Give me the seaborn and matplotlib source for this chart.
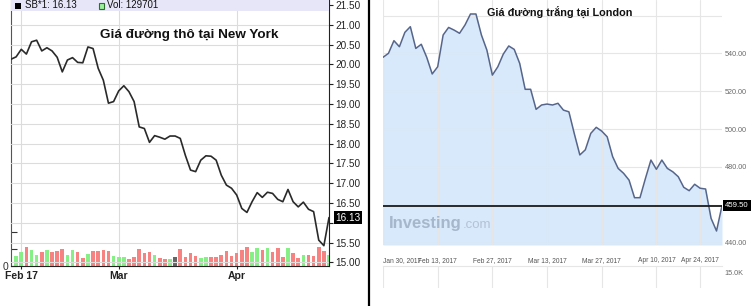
import numpy as np
import pandas as pd
import matplotlib
matplotlib.use("Agg")
import matplotlib.pyplot as plt
from matplotlib.patches import Rectangle
from matplotlib.lines import Line2D
import seaborn as sns

# ---------------- data ----------------
# New York raw sugar (SB*1), one close per trading day
ny_price = [20.13, 20.19, 20.38, 20.26, 20.57, 20.61, 20.34, 20.42, 20.34, 20.18,
            19.81, 20.11, 20.17, 20.05, 20.04, 20.44, 20.40, 19.90, 19.60, 19.02,
            19.06, 19.33, 19.46, 19.31, 19.06, 18.42, 18.38, 18.03, 18.20, 18.16,
            18.11, 18.19, 18.19, 18.13, 17.70, 17.33, 17.29, 17.58, 17.69, 17.68,
            17.58, 17.20, 16.95, 16.87, 16.70, 16.36, 16.26, 16.53, 16.76, 16.64,
            16.77, 16.74, 16.59, 16.53, 16.84, 16.53, 16.40, 16.52, 16.34, 16.28,
            15.56, 15.42, 16.13]
# volume (thousand lots) for trading days 1..62
ny_volume_k = [118, 165, 223, 188, 129, 165, 188, 165, 176, 200,
               129, 188, 165, 94, 141, 176, 176, 188, 176, 118,
               106, 106, 82, 106, 200, 153, 165, 129, 94, 82,
               82, 106, 200, 106, 153, 118, 94, 106, 106, 106,
               129, 176, 118, 153, 188, 223, 165, 212, 188, 212,
               165, 212, 106, 212, 153, 94, 129, 129, 118, 223,
               176, 130]
ny_tick_pos = [2, 21, 44]
ny_tick_labels = ["Feb 17", "Mar", "Apr"]
ny_yticks = [15.0, 15.5, 16.0, 16.5, 17.0, 17.5, 18.0, 18.5, 19.0, 19.5, 20.0, 20.5, 21.0, 21.5]
ny_last = "16.13"
ny_vol_last = "129701"

# London white sugar, one close per trading day
london_price = [537.9, 540.0, 546.7, 543.5, 551.1, 554.1, 542.6, 544.8, 537.9, 529.1,
                532.9, 549.7, 553.7, 552.3, 550.6, 555.0, 560.8, 560.8, 549.7, 541.7,
                528.5, 532.9, 539.6, 543.9, 542.1, 534.7, 521.0, 521.0, 510.4, 512.7,
                513.2, 512.7, 513.6, 510.0, 509.1, 497.4, 486.3, 489.0, 497.7, 500.9,
                498.9, 495.9, 485.4, 479.2, 476.6, 473.0, 463.7, 463.7, 473.9, 483.6,
                478.7, 483.6, 479.2, 477.4, 474.8, 469.2, 467.4, 470.8, 468.7, 468.3,
                452.8, 446.1, 459.5]
london_tick_pos = [0, 10, 20, 30, 40, 50, 58]
london_tick_labels = ["Jan 30, 2017", "Feb 13, 2017", "Feb 27, 2017", "Mar 13, 2017",
                      "Mar 27, 2017", "Apr 10, 2017", "Apr 24, 2017"]
london_yticks = [440, 460, 480, 500, 520, 540, 560]
london_last = 459.5

# ---------------- layout helpers ----------------
W, H = 752, 306
def box(x0, y0, x1, y1):
    return [x0 / W, 1 - y1 / H, (x1 - x0) / W, (y1 - y0) / H]
def fx(x):
    return x / W
def fy(y):
    return 1 - y / H

sns.set_style("white")
plt.rcParams["font.family"] = ["Liberation Sans", "DejaVu Sans"]

fig = plt.figure(figsize=(W / 100, H / 100), dpi=100)
fig.patch.set_facecolor("white")

# ================= LEFT PANEL (New York) =================
axv = fig.add_axes(box(11, 0, 329, 266))
n = len(ny_price)
days = np.arange(n)
chg = np.diff(ny_price)
dirs = np.where(chg > 1e-9, "up", np.where(chg < -1e-9, "down", "flat"))
bar_colors = {"up": "#86f086", "down": "#f78282", "flat": "#666666"}
df_vol = pd.DataFrame({"day": days[1:], "vol": ny_volume_k, "dir": dirs})
axv.bar(df_vol["day"], df_vol["vol"], width=0.7,
        color=[bar_colors[d] for d in df_vol["dir"]], linewidth=0, zorder=2)
axv.set_xlim(0, n - 1)
axv.set_ylim(0, 3130)
axv.set_yticks([0, 200, 400])
axv.set_yticklabels(["0", "", ""])
axv.tick_params(axis="y", direction="in", length=4, width=0.8, colors="#333333",
                labelsize=7.5, pad=2, left=True)
axv.set_xticks(ny_tick_pos)
axv.set_xticklabels(ny_tick_labels, fontweight="bold")
axv.tick_params(axis="x", direction="out", length=2, width=0.8, colors="#222222",
                labelsize=7.5, pad=1.5, bottom=True)
axv.grid(axis="x", color="#dcdcdc", lw=0.8, zorder=1)
axv.grid(axis="y", visible=False)
axv.set_axisbelow(True)
for s in ["top", "right"]:
    axv.spines[s].set_visible(False)
axv.spines["left"].set_color("#555555")
axv.spines["bottom"].set_color("#222222")

axp = axv.twinx()
axp.grid(axis="y", color="#dcdcdc", lw=0.8)
axp.set_axisbelow(True)
sns.lineplot(x=days, y=ny_price, ax=axp, color="#2a2a2a", lw=1.2, zorder=3)
axp.set_xlim(0, n - 1)
axp.set_ylim(14.9065, 21.6263)
axp.set_yticks(ny_yticks)
axp.set_yticklabels(["" if abs(v - 16.0) < 1e-9 else f"{v:.2f}" for v in ny_yticks])
axp.set_ylabel("")
axp.tick_params(axis="y", direction="out", length=3, width=0.8, colors="#222222",
                labelsize=7.2, pad=1.5, right=True)
axp.grid(axis="x", visible=False)
for s in ["top", "left", "bottom"]:
    axp.spines[s].set_visible(False)
axp.spines["right"].set_color("#222222")

# legend bar at top
axp.add_patch(Rectangle((0, 1 - 11 / 266), 1, 11 / 266, transform=axp.transAxes,
                        facecolor="#e6e6f8", edgecolor="none", zorder=10, clip_on=False))
fig.add_artist(Rectangle((fx(15.5), fy(9)), 5.5 / W, 5.5 / H, transform=fig.transFigure,
                         facecolor="black", edgecolor="none", zorder=20))
fig.text(fx(25), fy(5.5), f"SB*1: {ny_last}", ha="left", va="center", fontsize=7,
         color="#111111", zorder=21)
fig.add_artist(Rectangle((fx(99), fy(9)), 5.5 / W, 5.5 / H, transform=fig.transFigure,
                         facecolor="#9cf09c", edgecolor="#2d6e2d", lw=0.8, zorder=20))
fig.text(fx(107), fy(5.5), f"Vol: {ny_vol_last}", ha="left", va="center", fontsize=7,
         color="#111111", zorder=21)

fig.text(fx(189), fy(35), "Giá đường thô tại New York", ha="center", va="center",
         fontsize=9.7, fontweight="bold", color="#111111", zorder=21)

axp.annotate(ny_last, xy=(1, float(ny_last)), xycoords=("axes fraction", "data"),
             xytext=(6, 0), textcoords="offset pixels", ha="left", va="center",
             fontsize=7.2, color="white", annotation_clip=False,
             bbox=dict(facecolor="black", edgecolor="none", pad=1.0))

# separator
fig.add_artist(Line2D([fx(369), fx(369)], [0, 1], transform=fig.transFigure,
                      color="black", lw=1.6))

# ================= RIGHT PANEL (London) =================
axr = fig.add_axes(box(383, 0, 722, 245))
m = len(london_price)
ldays = np.arange(m)
ylo = 438.7
axr.fill_between(ldays, london_price, ylo, color="#d8e9fb", lw=0, zorder=1)
sns.lineplot(x=ldays, y=london_price, ax=axr, color="#56658a", lw=1.1, zorder=3)
axr.axhline(london_last, color="#1a1a1a", lw=1.3, zorder=4)
axr.set_xlim(0, m - 1)
axr.set_ylim(ylo, 568.2)
axr.set_xlabel("")
axr.set_ylabel("")
axr.set_axisbelow(False)
axr.set_yticks(london_yticks)
axr.set_yticklabels(["" if v in (460, 560) else f"{v:.2f}" for v in london_yticks])
axr.yaxis.tick_right()
axr.tick_params(axis="y", length=0, labelsize=5.2, labelcolor="#6a6a6a", pad=2)
axr.set_xticks(london_tick_pos)
axr.set_xticklabels(london_tick_labels)
axr.tick_params(axis="x", length=0, labelsize=4.8, labelcolor="#555555", pad=9)
axr.get_xticklabels()[0].set_ha("left")
axr.grid(True, color="#e6e6e6", lw=0.8)
for s in axr.spines.values():
    s.set_visible(False)

axr.annotate(f"{london_last:.2f}", xy=(1, london_last), xycoords=("axes fraction", "data"),
             xytext=(3, 0), textcoords="offset pixels", ha="left", va="center",
             fontsize=5.6, color="white", annotation_clip=False,
             bbox=dict(facecolor="black", edgecolor="none", pad=1.6))

fig.text(fx(389), fy(228), "Investing", ha="left", va="baseline", fontsize=12,
         fontweight="bold", color="#a6b6cb", zorder=5)
fig.text(fx(463), fy(228), ".com", ha="left", va="baseline", fontsize=9.5,
         color="#b4c2d4", zorder=5)

fig.text(fx(560), fy(12), "Giá đường trắng tại London", ha="center", va="center",
         fontsize=7.8, fontweight="bold", color="#111111", zorder=6)

# volume strip below London chart
axrv = fig.add_axes(box(383, 266, 722, 288))
axrv.set_xlim(0, m - 1)
axrv.set_ylim(0, 1)
axrv.set_xticks(london_tick_pos)
axrv.set_xticklabels([])
axrv.tick_params(axis="x", length=0)
axrv.grid(axis="x", color="#e6e6e6", lw=0.8)
axrv.set_yticks([0.7])
axrv.set_yticklabels(["15.0K"])
axrv.yaxis.tick_right()
axrv.tick_params(axis="y", length=0, labelsize=5.2, labelcolor="#6a6a6a", pad=2)
for s in ["left", "right", "bottom"]:
    axrv.spines[s].set_visible(False)
axrv.spines["top"].set_color("#e6e6e6")
axrv.patch.set_alpha(0)

fig.savefig("out.png", dpi=100, facecolor="white")
